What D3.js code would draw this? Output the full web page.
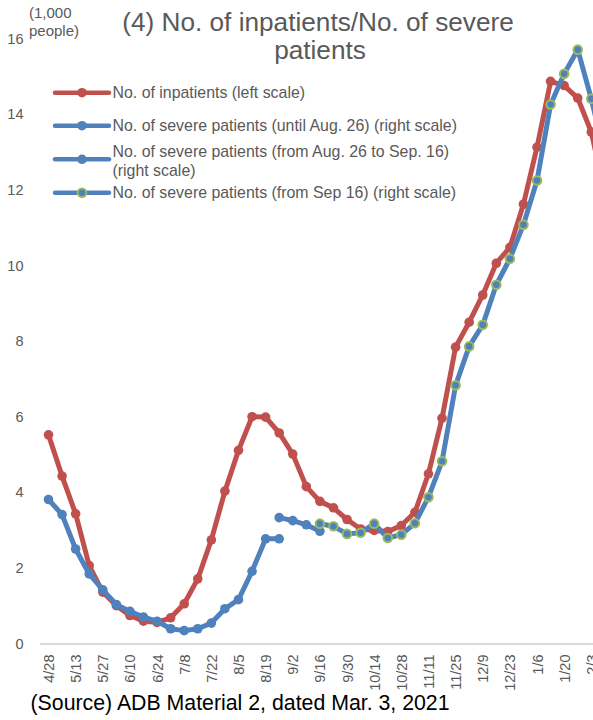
<!DOCTYPE html>
<html><head><meta charset="utf-8">
<script src="https://cdn.jsdelivr.net/npm/d3@7"></script>
<style>
html,body{margin:0;padding:0;background:#fff;overflow:hidden;}
text{font-family:"Liberation Sans",Arial,sans-serif;}
</style></head>
<body>
<svg id="chart" width="593" height="720"></svg>
<script>
// ---- data ----
const categories = ["4/28","5/6","5/13","5/20","5/27","6/3","6/10","6/17","6/24","7/1","7/8","7/15","7/22","7/29","8/5","8/12","8/19","8/26","9/2","9/9","9/16","9/23","9/30","10/7","10/14","10/21","10/28","11/4","11/11","11/18","11/25","12/2","12/9","12/16","12/23","12/30","1/6","1/13","1/20","1/27","2/3","2/10"];
const inpatients = [5.52,4.43,3.43,2.06,1.36,1.0,0.74,0.59,0.56,0.68,1.05,1.71,2.74,4.03,5.11,6.0,5.99,5.57,5.01,4.15,3.76,3.59,3.28,3.03,2.99,2.96,3.12,3.47,4.49,5.96,7.84,8.5,9.22,10.06,10.48,11.62,13.13,14.87,14.76,14.43,13.53,11.9];
// severe patients, plotted on the (hidden) right scale, expressed in its plotted units
const severeUntilAug26 = [3.81,3.41,2.5,1.84,1.42,1.03,0.85,0.7,0.59,0.39,0.34,0.39,0.54,0.92,1.16,1.91,2.77,2.77]; // 4/28 .. 8/26
const severeAug26toSep16 = [3.33,3.25,3.14,2.97]; // 8/26 .. 9/16
const severeFromSep16 = [3.17,3.1,2.9,2.93,3.17,2.79,2.88,3.18,3.87,4.82,6.83,7.86,8.43,9.49,10.18,11.08,12.25,14.26,15.07,15.71,14.41,12.9]; // 9/16 ..
const leftTicks = [0,2,4,6,8,10,12,14,16];
const legendLabels = [["No. of inpatients (left scale)"],["No. of severe patients (until Aug. 26) (right scale)"],["No. of severe patients (from Aug. 26 to Sep. 16)","(right scale)"],["No. of severe patients (from Sep 16) (right scale)"]];

const RED="#c0504d", BLUE="#4f81bd", GREEN="#9bbb59", GRAY="#595959";
const svg = d3.select("#chart");

const x = d3.scalePoint().domain(categories).range([48.5, 48.5 + 13.57*(categories.length-1)]);
const y = d3.scaleLinear().domain([0,16]).range([643.5, 38.7]);
const y2 = d3.scaleLinear().domain([0,16]).range([643.5, 38.7]);

// title
const title = svg.append("text").attr("x",318).attr("text-anchor","middle").attr("fill",GRAY).style("font-size","26.2px");
title.append("tspan").attr("x",318).attr("y",31).text("(4) No. of inpatients/No. of severe");
title.append("tspan").attr("x",320).attr("y",59).text("patients");

// unit label
svg.append("text").attr("x",29).attr("y",18).attr("fill",GRAY).style("font-size","15px").text("(1,000");
svg.append("text").attr("x",29).attr("y",36).attr("fill",GRAY).style("font-size","15px").text("people)");

// left axis labels
const yAxis = d3.axisLeft(y).tickValues(leftTicks).tickSize(0).tickPadding(0);
const gy = svg.append("g").attr("transform","translate(23.5,0)").call(yAxis);
gy.select(".domain").remove();
gy.selectAll("text").attr("fill",GRAY).style("font-size","14.5px").style("font-family","'Liberation Sans',Arial,sans-serif");

// x axis baseline
svg.append("line").attr("x1",40).attr("x2",700).attr("y1",y(0)+0.5).attr("y2",y(0)+0.5).attr("stroke","#d9d9d9").attr("stroke-width",2);

// x labels
const xAxis = d3.axisBottom(x).tickValues(categories.filter((d,i)=>i%2===0)).tickSize(0).tickPadding(0);
const gx = svg.append("g").attr("transform","translate(0,"+(y(0))+")").call(xAxis);
gx.select(".domain").remove();
gx.selectAll("text")
  .attr("transform","rotate(-90)")
  .attr("text-anchor","end")
  .attr("x",-11).attr("y",0).attr("dy","0.35em")
  .attr("fill",GRAY).style("font-size","14.5px").style("font-family","'Liberation Sans',Arial,sans-serif");

// series
function drawSeries(vals, offset, scale, color, green){
  const pts = vals.map((v,i)=>({c:categories[i+offset], v}));
  const line = d3.line().x(d=>x(d.c)).y(d=>scale(d.v));
  svg.append("path").datum(pts).attr("d",line).attr("fill","none").attr("stroke",color).attr("stroke-width",5).attr("stroke-linejoin","round").attr("stroke-linecap","round");
  svg.append("g").selectAll("circle").data(pts).join("circle")
    .attr("cx",d=>x(d.c)).attr("cy",d=>scale(d.v)).attr("r", green?4.3:4.8)
    .attr("fill",color).attr("stroke",green?GREEN:"none").attr("stroke-width",green?2:0);
}
drawSeries(inpatients, 0, y, RED, false);
drawSeries(severeUntilAug26, 0, y2, BLUE, false);
drawSeries(severeAug26toSep16, 17, y2, BLUE, false);
drawSeries(severeFromSep16, 20, y2, BLUE, true);

// legend
const legY = [92.7,125.7,159.3,192.7];
const legCol = [RED,BLUE,BLUE,BLUE];
legendLabels.forEach((lab,i)=>{
  const g = svg.append("g");
  g.append("line").attr("x1",55).attr("x2",109).attr("y1",legY[i]).attr("y2",legY[i]).attr("stroke",legCol[i]).attr("stroke-width",4.5).attr("stroke-linecap","round");
  g.append("circle").attr("cx",82).attr("cy",legY[i]).attr("r",i===3?4.3:4.8).attr("fill",legCol[i]).attr("stroke",i===3?GREEN:"none").attr("stroke-width",i===3?2:0);
  if(lab.length===1){
    g.append("text").attr("x",112.5).attr("y",legY[i]+5.6).attr("fill",GRAY).style("font-size","15.9px").text(lab[0]);
  } else {
    g.append("text").attr("x",112.5).attr("y",157.3).attr("fill",GRAY).style("font-size","15.9px").text(lab[0]);
    g.append("text").attr("x",112.5).attr("y",175.7).attr("fill",GRAY).style("font-size","15.9px").text(lab[1]);
  }
});

// source
svg.append("text").attr("x",30.5).attr("y",710).attr("fill","#000").style("font-size","21.3px").text("(Source) ADB Material 2, dated Mar. 3, 2021");
</script>
</body></html>
